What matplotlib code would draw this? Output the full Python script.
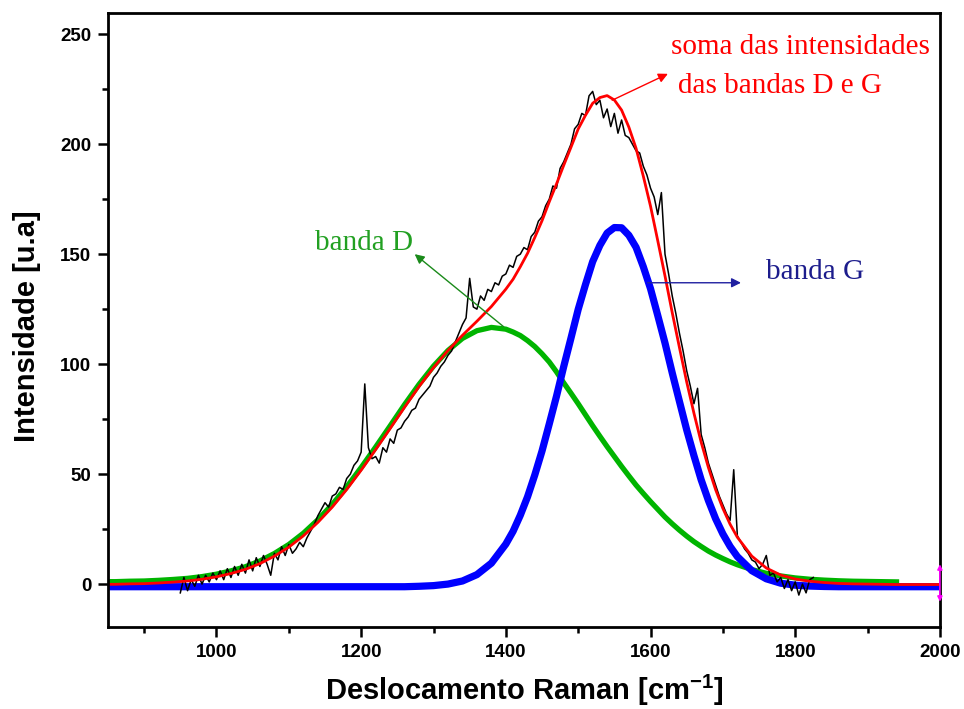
import numpy as np
import matplotlib.pyplot as plt

plt.rcParams['font.family'] = 'Liberation Sans'
plt.rcParams['mathtext.fontset'] = 'custom'
plt.rcParams['mathtext.rm'] = 'Liberation Sans'
plt.rcParams['mathtext.bf'] = 'Liberation Sans:bold'

# fitted bands, finer steps where the curves bend most
fit_shift = [850] + list(range(860, 1400, 20)) + list(range(1400, 1720, 10)) + list(range(1720, 2001, 20))
band_d = [1.1, 1.1, 1.3, 1.4, 1.7, 2.1, 2.6, 3.4, 4.5, 6.0,
          7.9, 10.5, 13.9, 18.0, 23.1, 29.2, 36.2, 44.2, 53.0, 62.3,
          71.9, 81.6, 90.8, 99.1, 106.2, 111.7, 115.2, 116.7,
          # 1400 .. 1710, every 10
          115.9, 114.6, 113.0, 110.7, 108.0, 104.7, 101.0, 96.5, 91.5, 86.8,
          82.0, 77.0, 72.0, 67.2, 62.5, 58.0, 53.5, 49.2, 45.0, 41.2,
          37.5, 34.0, 30.5, 27.4, 24.5, 21.8, 19.3, 17.1, 15.0, 13.2,
          11.6, 10.1,
          # 1720 .. 2000
          8.8, 6.6, 4.9, 3.7, 2.8, 2.2, 1.8, 1.5, 1.3, 1.2,
          1.1, 1.0, 1.0, 1.0, 1.0]
band_g = [-1.2, -1.2, -1.2, -1.2, -1.2, -1.2, -1.2, -1.2, -1.2, -1.2,
          -1.2, -1.2, -1.2, -1.2, -1.2, -1.2, -1.2, -1.2, -1.2, -1.2,
          -1.2, -1.2, -1.0, -0.7, 0.0, 1.4, 4.3, 9.5,
          # 1400 .. 1710, every 10
          18.2, 24.0, 31.3, 39.7, 49.6, 60.5, 72.8, 85.4, 98.9, 111.8,
          124.9, 136.1, 146.6, 154.0, 159.6, 162.1, 162.0, 158.6, 153.1, 144.3,
          134.3, 122.1, 109.6, 96.0, 83.0, 70.1, 58.4, 47.4, 38.0, 29.7,
          22.8, 17.1,
          # 1720 .. 2000
          12.5, 6.1, 2.4, 0.4, -0.5, -0.9, -1.1, -1.2, -1.2, -1.2,
          -1.2, -1.2, -1.2, -1.2, -1.2]

# measured spectrum
raw_shift = list(range(950, 1826, 5))
raw_intensity = [-4, 3, -3, 2, -1, 4, 0, 4, 1, 5,
                 2, 6, 2, 7, 3, 8, 4, 9, 5, 11,
                 6, 12, 8, 13, 9, 4, 14, 11, 17, 13,
                 18, 14, 16, 19, 17, 21, 24, 27, 31, 34,
                 37, 35, 40, 41, 44, 43, 48, 50, 54, 56,
                 60, 91, 62, 57, 58, 55, 62, 60, 66, 64,
                 70, 71, 74, 76, 79, 80, 84, 86, 88, 90,
                 94, 96, 99, 101, 104, 106, 110, 114, 118, 121,
                 139, 126, 125, 131, 129, 134, 133, 137, 136, 140,
                 141, 145, 144, 149, 150, 153, 152, 158, 160, 165,
                 167, 172, 175, 181, 180, 189, 192, 196, 200, 207,
                 209, 214, 213, 222, 224, 218, 220, 212, 216, 208,
                 214, 205, 211, 204, 203, 200, 197, 196, 190, 186,
                 180, 176, 168, 178, 150, 141, 131, 123, 114, 106,
                 97, 90, 82, 89, 68, 62, 55, 50, 45, 40,
                 36, 32, 29, 52, 22, 19, 16, 14, 11, 10,
                 7, 9, 13, 4, 5, 1, 3, -2, 2, -3,
                 1, -5, 0, -4, 2, 3]

x_fit = np.array(fit_shift)
d = np.array(band_d)
g = np.array(band_g)
soma = d + g

fig = plt.figure(figsize=(9.64, 7.09), dpi=100)
ax = fig.add_axes([0.112, 0.1157, 0.863, 0.8655])

keep = x_fit <= 1940
ax.plot(x_fit[keep], d[keep], color='#00b400', lw=3.8, solid_joinstyle='round')
ax.plot(x_fit, g, color='#0000ff', lw=5.2, solid_joinstyle='round')
ax.plot(raw_shift, raw_intensity, color='black', lw=1.1)
ax.plot(x_fit, soma, color='#ff0000', lw=2.0, solid_joinstyle='round')

# annotations
serif = 'Liberation Serif'
ax.annotate('', xy=(1624, 232), xytext=(1547, 220),
            arrowprops=dict(arrowstyle='-|>', color='red', lw=1, mutation_scale=14, shrinkA=0, shrinkB=0))
ax.text(1807, 244, 'soma das intensidades', color='red', family=serif, fontsize=21, ha='center', va='center')
ax.text(1779, 226.5, 'das bandas D e G', color='red', family=serif, fontsize=21, ha='center', va='center')

ax.annotate('', xy=(1274, 150), xytext=(1397, 117),
            arrowprops=dict(arrowstyle='-|>', color='#1a8a1a', lw=1, mutation_scale=14, shrinkA=0, shrinkB=0))
ax.text(1204, 155, 'banda D', color='#22a022', family=serif, fontsize=21, ha='center', va='center')

ax.annotate('', xy=(1725, 137), xytext=(1596, 137),
            arrowprops=dict(arrowstyle='-|>', color='#2020a0', lw=1, mutation_scale=14, shrinkA=0, shrinkB=0))
ax.text(1828, 142, 'banda G', color='#1c1c8c', family=serif, fontsize=21, ha='center', va='center')

ax.annotate('', xy=(2000, 9), xytext=(2000, -8), annotation_clip=False, zorder=5,
            arrowprops=dict(arrowstyle='<|-|>', color='magenta', lw=1.2, mutation_scale=7, shrinkA=0, shrinkB=0))

# axes
ax.set_xlim(850, 2000)
ax.set_ylim(-19.5, 259.5)
ax.set_xticks(range(1000, 2001, 200))
ax.set_xticks(range(900, 2001, 200), minor=True)
ax.set_yticks(range(0, 251, 50))
ax.set_yticks(range(25, 251, 50), minor=True)
ax.tick_params(which='major', direction='out', length=7, width=1.8, labelsize=13.5, pad=5)
ax.tick_params(which='minor', direction='out', length=4, width=1.8)
for lbl in ax.get_xticklabels() + ax.get_yticklabels():
    lbl.set_fontweight('bold')
for sp in ax.spines.values():
    sp.set_linewidth(2)

ax.set_xlabel(r'Deslocamento Raman [cm$^{\mathbf{-1}}$]', fontsize=21, fontweight='bold')
ax.set_ylabel('Intensidade [u.a]', fontsize=21, fontweight='bold')
ax.xaxis.set_label_coords(0.5, -0.075)
ax.yaxis.set_label_coords(-0.08, 0.49)

fig.savefig('out.png', dpi=100)
